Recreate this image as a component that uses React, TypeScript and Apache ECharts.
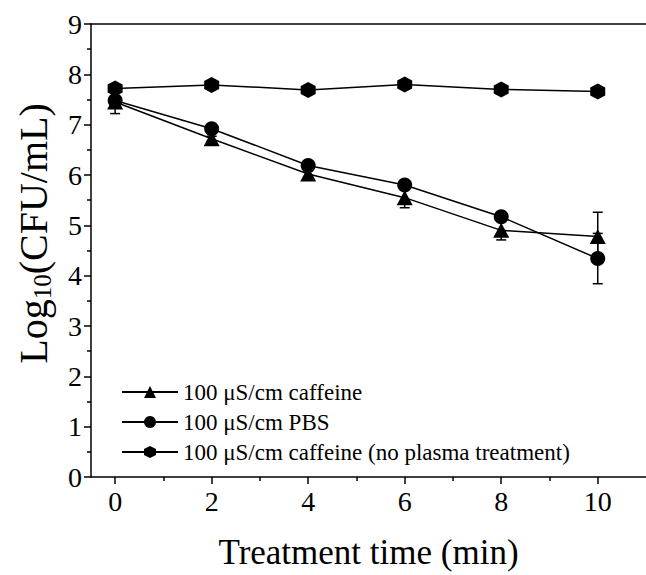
import React, { useEffect, useRef } from "react";
import * as echarts from "echarts";

const times = [0, 2, 4, 6, 8, 10];
const caffeine = [7.45, 6.72, 6.02, 5.55, 4.9, 4.78];
const caffeineErr = [0.23, 0.05, 0.06, 0.2, 0.19, 0.48];
const pbs = [7.48, 6.92, 6.19, 5.8, 5.17, 4.34];
const pbsErr = [0.05, 0.05, 0.05, 0.05, 0.05, 0.5];
const noPlasma = [7.72, 7.79, 7.69, 7.8, 7.7, 7.66];
const noPlasmaErr = [0.03, 0.03, 0.03, 0.03, 0.03, 0.03];
const majorX = [0, 2, 4, 6, 8, 10];
const minorX = [1, 3, 5, 7, 9];
const names = [
  "100 μS/cm caffeine",
  "100 μS/cm PBS",
  "100 μS/cm caffeine (no plasma treatment)",
];

const FONT = "'Liberation Serif', 'Times New Roman', serif";
const HEX = "path://M0,-1 L0.866,-0.5 L0.866,0.5 L0,1 L-0.866,0.5 L-0.866,-0.5 Z";

function errSeries(vals: number[], errs: number[]) {
  return {
    type: "custom",
    xAxisIndex: 0,
    yAxisIndex: 0,
    z: 1,
    silent: true,
    data: times.map((t, i) => [t, vals[i], errs[i]]),
    renderItem: (params: any, api: any) => {
      const x = api.value(0);
      const y = api.value(1);
      const e = api.value(2);
      const hi = api.coord([x, y + e]);
      const lo = api.coord([x, y - e]);
      const st = { stroke: "#000", lineWidth: 1.5 };
      return {
        type: "group",
        children: [
          { type: "line", shape: { x1: hi[0], y1: hi[1], x2: lo[0], y2: lo[1] }, style: st },
          { type: "line", shape: { x1: hi[0] - 5, y1: hi[1], x2: hi[0] + 5, y2: hi[1] }, style: st },
          { type: "line", shape: { x1: lo[0] - 5, y1: lo[1], x2: lo[0] + 5, y2: lo[1] }, style: st },
        ],
      };
    },
  };
}

function lineSeries(name: string, vals: number[], symbol: string, size: any) {
  return {
    type: "line",
    name,
    xAxisIndex: 0,
    yAxisIndex: 0,
    z: 3,
    symbol,
    symbolSize: size,
    showAllSymbol: true,
    data: times.map((t, i) => [t, vals[i]]),
    lineStyle: { color: "#000", width: 1.5 },
    itemStyle: { color: "#000", borderWidth: 0 },
  };
}

export default function App() {
  const ref = useRef<HTMLDivElement>(null);
  useEffect(() => {
    const chart = echarts.init(ref.current!, null, { renderer: "svg" });
    const axisLineStyle = { color: "#000", width: 1.5 };
    const option: any = {
      animation: false,
      textStyle: { fontFamily: FONT },
      grid: { left: 91, top: 24, right: -8, bottom: 96 },
      legend: {
        left: 116,
        top: 375,
        orient: "vertical",
        itemWidth: 56,
        itemHeight: 15,
        itemGap: 6,
        data: names,
        textStyle: { fontFamily: FONT, fontSize: 23, color: "#000", lineHeight: 24 },
      },
      xAxis: [
        {
          type: "value",
          min: -0.5,
          max: 11,
          position: "bottom",
          axisLine: { onZero: false, lineStyle: axisLineStyle },
          axisTick: { show: true, customValues: majorX, length: 7, lineStyle: axisLineStyle },
          axisLabel: { customValues: majorX, color: "#000", fontSize: 28, margin: 10, fontFamily: FONT },
          splitLine: { show: false },
          name: "Treatment time (min)",
          nameLocation: "middle",
          nameGap: 58,
          nameTextStyle: { fontSize: 35, color: "#000", fontFamily: FONT },
        },
        {
          type: "value",
          min: -0.5,
          max: 11,
          position: "bottom",
          axisLine: { show: false, onZero: false },
          axisTick: { show: true, customValues: minorX, length: 4, lineStyle: axisLineStyle },
          axisLabel: { show: false },
          splitLine: { show: false },
        },
        {
          type: "value",
          min: -0.5,
          max: 11,
          position: "top",
          axisLine: { onZero: false, lineStyle: axisLineStyle },
          axisTick: { show: false },
          axisLabel: { show: false },
          splitLine: { show: false },
        },
      ],
      yAxis: {
        type: "value",
        min: 0,
        max: 9,
        interval: 1,
        axisLine: { show: true, onZero: false, lineStyle: axisLineStyle },
        axisTick: { show: true, length: 7, lineStyle: axisLineStyle },
        minorTick: { show: true, splitNumber: 2, length: 4, lineStyle: axisLineStyle },
        axisLabel: { color: "#000", fontSize: 28, margin: 9, fontFamily: FONT },
        splitLine: { show: false },
        minorSplitLine: { show: false },
        name: "{a|Log}{b|10}{a|(CFU/mL)}",
        nameLocation: "middle",
        nameGap: 36,
        nameRotate: 90,
        nameTextStyle: {
          padding: [0, 0, 0, 34],
          rich: {
            a: { fontSize: 40, fontFamily: FONT, color: "#000", lineHeight: 44, verticalAlign: "middle" },
            b: { fontSize: 25, fontFamily: FONT, color: "#000", lineHeight: 16, verticalAlign: "bottom" },
          },
        },
      },
      series: [
        errSeries(caffeine, caffeineErr),
        errSeries(pbs, pbsErr),
        errSeries(noPlasma, noPlasmaErr),
        lineSeries(names[0], caffeine, "triangle", [16, 15]),
        lineSeries(names[1], pbs, "circle", 15),
        lineSeries(names[2], noPlasma, HEX, [15, 16]),
      ],
    };
    chart.setOption(option);
    return () => chart.dispose();
  }, []);
  return (
    <div
      ref={ref}
      style={{ position: "absolute", left: 0, top: 0, width: 646, height: 575 }}
    />
  );
}
